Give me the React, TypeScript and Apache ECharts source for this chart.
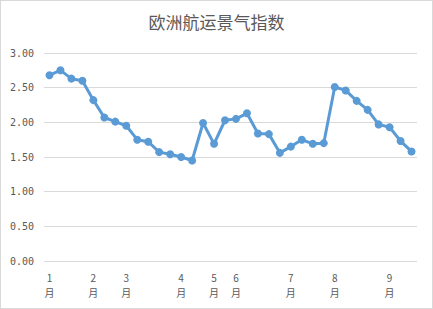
import React, { useEffect, useRef } from "react";
import * as echarts from "echarts";

const categories = [
  "1\n月", "", "", "", "2\n月", "", "", "3\n月", "", "", "", "", "4\n月", "", "", "5\n月", "",
  "6\n月", "", "", "", "", "7\n月", "", "", "", "8\n月", "", "", "", "", "9\n月", "", "",
];
const values = [
  2.68, 2.75, 2.63, 2.60, 2.32, 2.07, 2.01, 1.95, 1.75, 1.72, 1.57, 1.54, 1.50, 1.45, 1.99, 1.69, 2.03,
  2.05, 2.13, 1.84, 1.83, 1.56, 1.65, 1.75, 1.69, 1.70, 2.51, 2.46, 2.31, 2.18, 1.97, 1.93, 1.73, 1.58,
];
const titleText = "欧洲航运景气指数";

export default function App() {
  const ref = useRef<HTMLDivElement>(null);
  useEffect(() => {
    document.body.style.margin = "0";
    const chart = echarts.init(ref.current!, null, { renderer: "svg" });
    chart.setOption({
      animation: false,
      backgroundColor: "#ffffff",
      title: {
        text: titleText,
        left: "center",
        top: 7,
        textStyle: {
          color: "#595959",
          fontSize: 17,
          fontWeight: "normal",
          fontFamily: "Noto Sans CJK SC",
        },
      },
      grid: { left: 43, right: 15, top: 52, bottom: 47 },
      xAxis: {
        type: "category",
        data: categories,
        boundaryGap: true,
        axisLine: { show: false },
        axisTick: { show: false },
        axisLabel: {
          interval: 0,
          color: "#595959",
          fontSize: 10,
          lineHeight: 15,
          margin: 9,
          fontFamily: "Noto Sans CJK SC",
        },
      },
      yAxis: {
        type: "value",
        min: 0,
        max: 3,
        interval: 0.5,
        axisLine: { show: false },
        axisTick: { show: false },
        splitLine: { lineStyle: { color: "#d9d9d9", width: 1 } },
        axisLabel: {
          formatter: (v: number) => v.toFixed(2),
          color: "#595959",
          fontSize: 10,
          margin: 10,
          fontFamily: "DejaVu Sans Mono",
        },
      },
      series: [
        {
          type: "line",
          data: values,
          symbol: "circle",
          symbolSize: 8,
          lineStyle: { color: "#5B9BD5", width: 3 },
          itemStyle: { color: "#5B9BD5" },
        },
      ],
    });
    return () => chart.dispose();
  }, []);
  return (
    <div
      ref={ref}
      style={{
        width: 433,
        height: 309,
        boxSizing: "border-box",
        border: "1px solid #d9d9d9",
      }}
    />
  );
}
